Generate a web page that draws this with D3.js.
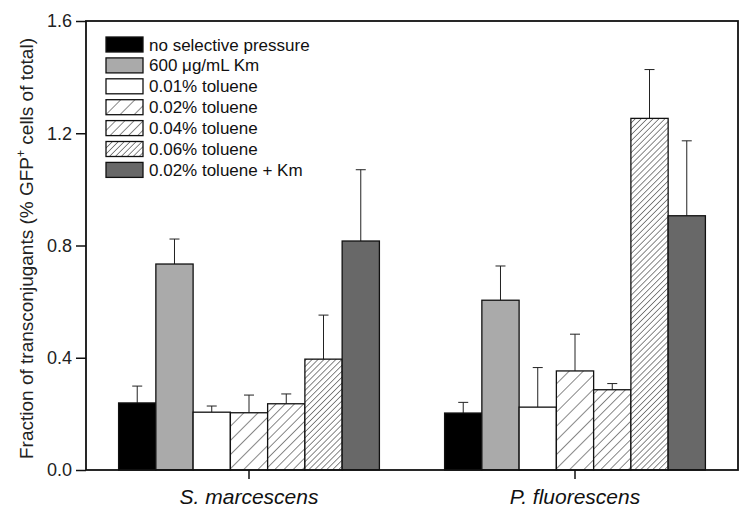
<!DOCTYPE html>
<html><head><meta charset="utf-8">
<script src="https://cdn.jsdelivr.net/npm/d3@7"></script>
<style>body{margin:0;background:#fff}svg{display:block}</style>
</head><body>
<svg id="c" width="753" height="518"></svg>
<script>
const categories = ["S. marcescens", "P. fluorescens"];
const seriesNames = ["no selective pressure", "600 \u03BCg/mL Km", "0.01% toluene", "0.02% toluene", "0.04% toluene", "0.06% toluene", "0.02% toluene + Km"];
const smValues = [0.239, 0.734, 0.206, 0.204, 0.236, 0.395, 0.816];
const smErrors = [0.060, 0.089, 0.022, 0.063, 0.035, 0.157, 0.254];
const pfValues = [0.203, 0.605, 0.224, 0.353, 0.286, 1.253, 0.906];
const pfErrors = [0.038, 0.122, 0.141, 0.131, 0.022, 0.174, 0.267];
const yTicks = [0.0, 0.4, 0.8, 1.2, 1.6];

const fills = ["#000", "#aaaaaa", "#fff", "url(#h1)", "url(#h2)", "url(#h3)", "#686868"];
const values = [smValues, pfValues];
const errors = [smErrors, pfErrors];

const svg = d3.select("#c");
const L = 86, R = 738, T = 21, B = 470;
const font = "'Liberation Sans', Arial, sans-serif";

const defs = svg.append("defs");
[["h1", 10], ["h2", 6.5], ["h3", 4.2]].forEach(([id, s]) => {
  const p = defs.append("pattern").attr("id", id).attr("patternUnits", "userSpaceOnUse")
    .attr("width", s).attr("height", s).attr("patternTransform", "rotate(45)");
  p.append("rect").attr("width", s).attr("height", s).attr("fill", "#fff");
  p.append("line").attr("x1", 0).attr("y1", 0).attr("x2", 0).attr("y2", s)
    .attr("stroke", "#111").attr("stroke-width", 1);
});

const x = d3.scaleBand().domain(categories).range([L, R]).paddingInner(0.2).paddingOuter(0.1);
const xs = d3.scaleBand().domain(d3.range(seriesNames.length)).range([0, x.bandwidth()]);
const y = d3.scaleLinear().domain([0, 1.6]).range([B, T]);

// bars
categories.forEach((cat, ci) => {
  const g = svg.append("g").attr("transform", `translate(${x(cat)},0)`);
  values[ci].forEach((v, i) => {
    const cx = xs(i) + xs.bandwidth() / 2;
    g.append("line").attr("x1", cx).attr("x2", cx).attr("y1", y(v)).attr("y2", y(v + errors[ci][i]))
      .attr("stroke", "#222").attr("stroke-width", 1);
    g.append("line").attr("x1", cx - 5).attr("x2", cx + 5).attr("y1", y(v + errors[ci][i])).attr("y2", y(v + errors[ci][i]))
      .attr("stroke", "#222").attr("stroke-width", 1);
  });
  values[ci].forEach((v, i) => {
    g.append("rect").attr("x", xs(i)).attr("y", y(v)).attr("width", xs.bandwidth()).attr("height", y(0) - y(v))
      .attr("fill", fills[i]).attr("stroke", "#111").attr("stroke-width", 1.3);
  });
});

// frame
svg.append("rect").attr("x", L).attr("y", T).attr("width", R - L).attr("height", B - T)
  .attr("fill", "none").attr("stroke", "#111").attr("stroke-width", 1.8);

// y axis
const ya = svg.append("g").attr("transform", `translate(${L},0)`)
  .call(d3.axisLeft(y).tickValues(yTicks).tickFormat(d3.format(".1f")).tickSize(10).tickPadding(4));
ya.select(".domain").remove();
ya.selectAll(".tick line").attr("stroke", "#111").attr("stroke-width", 1.5);
ya.selectAll("text").attr("font-family", font).attr("font-size", 18).attr("fill", "#222");

// x axis
const xa = svg.append("g").attr("transform", `translate(0,${B})`)
  .call(d3.axisBottom(x).tickSize(9).tickPadding(10));
xa.select(".domain").remove();
xa.selectAll(".tick line").attr("stroke", "#111").attr("stroke-width", 1.5);
xa.selectAll("text").attr("font-family", font).attr("font-size", 21).attr("font-style", "italic").attr("fill", "#111");

// y title
svg.append("text").attr("transform", `translate(33,${(T + B) / 2 + 3}) rotate(-90)`)
  .attr("text-anchor", "middle").attr("font-family", font).attr("font-size", 19).attr("fill", "#222")
  .text("Fraction of transconjugants (% GFP")
  .call(t => {
    t.append("tspan").attr("font-size", 12).attr("dy", -8).text("+");
    t.append("tspan").attr("dy", 8).text(" cells of total)");
  });

// legend
const lg = svg.append("g").attr("transform", "translate(106,37)");
seriesNames.forEach((n, i) => {
  const row = lg.append("g").attr("transform", `translate(0,${i * 20.9})`);
  row.append("rect").attr("width", 37).attr("height", 15).attr("fill", fills[i])
    .attr("stroke", "#111").attr("stroke-width", 1.3);
  row.append("text").attr("x", 43).attr("y", 13.5).attr("font-family", font).attr("font-size", 17)
    .attr("fill", "#111").text(n);
});
</script>
</body></html>
